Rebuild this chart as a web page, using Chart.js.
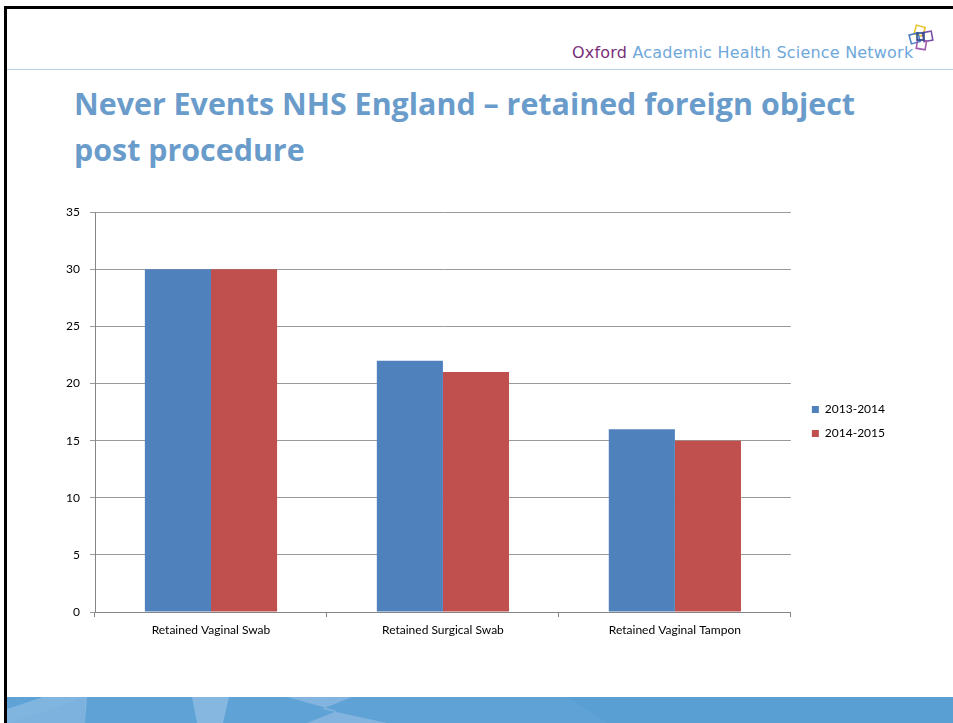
<!DOCTYPE html>
<html>
<head>
<meta charset="utf-8">
<script src="https://cdn.jsdelivr.net/npm/chart.js@4/dist/chart.umd.min.js"></script>
<style>
  html, body { margin: 0; padding: 0; background: #fff; }
  #slide { position: relative; width: 953px; height: 723px; overflow: hidden; background: #fff; }
  #topbar { position: absolute; left: 4px; top: 6px; width: 949px; height: 3px; background: #000; }
  #leftbar { position: absolute; left: 4px; top: 6px; width: 3px; height: 717px; background: #000; }
  #brand { position: absolute; left: 572px; top: 43px; font-family: "DejaVu Sans", sans-serif; font-size: 16px; letter-spacing: 0.2px; color: #6fa8da; white-space: nowrap; }
  #brand span { color: #7a2e7a; }
  #rule { position: absolute; left: 7px; top: 69px; width: 946px; height: 1px; background: #b8d3ea; }
  #title { position: absolute; left: 74px; top: 81px; font-family: "Open Sans", sans-serif; font-weight: bold; font-size: 30.4px; line-height: 46px; color: #6a9ccb; white-space: nowrap; }
  #chartbox { position: absolute; left: 0; top: 195px; width: 953px; height: 450px; }
  #band { position: absolute; left: 7px; top: 697px; }
  #logo { position: absolute; left: 906px; top: 24px; }
</style>
</head>
<body>
<div id="slide">
  <div id="topbar"></div>
  <div id="leftbar"></div>
  <div id="brand"><span>Oxford</span> Academic Health Science Network</div>
  <svg id="logo" width="30" height="30" viewBox="0 0 30 30">
    <rect x="9" y="2" width="9" height="9" fill="none" stroke="#e6c229" stroke-width="1.6" transform="rotate(15 13 7)"/>
    <rect x="17" y="8" width="9" height="9" fill="none" stroke="#7a4fa8" stroke-width="1.6" transform="rotate(-10 21 12)"/>
    <rect x="4" y="10" width="9" height="9" fill="none" stroke="#4c7fc2" stroke-width="1.6" transform="rotate(-15 8 14)"/>
    <rect x="11" y="16" width="9" height="9" fill="none" stroke="#a05cb0" stroke-width="1.6" transform="rotate(10 15 20)"/>
    <rect x="11" y="9" width="7" height="7" fill="none" stroke="#2d4f8a" stroke-width="1.6"/>
  </svg>
  <div id="rule"></div>
  <div id="title">Never Events NHS England – retained foreign object<br>post procedure</div>
  <div id="chartbox"><canvas id="canvas" width="953" height="450"></canvas></div>
  <svg id="band" width="946" height="26" viewBox="0 0 946 26">
    <rect x="0" y="0" width="946" height="26" fill="#5fa3d6"/>
    <polygon points="0,26 0,12 36,0 80,0 78,26" fill="#80b5e0"/>
    <polygon points="0,26 40,14 78,0 78,26" fill="#7db2de"/>
    <polygon points="185,0 222,0 216,26 190,26" fill="#85b7e1"/>
    <polygon points="280,0 345,0 315,12 380,26 300,26 330,14" fill="#82b4df"/>
    <polygon points="560,0 946,0 946,26 600,26" fill="#5a9fd4"/>
  </svg>
</div>
<script>
var categories = ['Retained Vaginal Swab', 'Retained Surgical Swab', 'Retained Vaginal Tampon'];
var series2013 = [30, 22, 16];
var series2014 = [30, 21, 15];
var seriesNames = ['2013-2014', '2014-2015'];

var tickFont = { family: 'Lato, sans-serif', size: 12 };

// nudge the legend up a little, like the original
var legendShift = {
    id: 'legendShift',
    afterLayout: function (chart) {
        chart.legend.top -= 5;
        chart.legend.bottom -= 5;
    }
};

var ctx = document.getElementById('canvas');
var myChart = new Chart(ctx, {
    type: 'bar',
    data: {
        labels: categories,
        datasets: [{
            label: seriesNames[0],
            data: series2013,
            backgroundColor: '#4f81bd',
            categoryPercentage: 0.57,
            barPercentage: 1.0
        }, {
            label: seriesNames[1],
            data: series2014,
            backgroundColor: '#c0504d',
            categoryPercentage: 0.57,
            barPercentage: 1.0
        }]
    },
    options: {
        responsive: false,
        animation: false,
        layout: { padding: { top: 13, right: 58, bottom: 0, left: 0 } },
        plugins: {
            tooltip: { enabled: false },
            legend: {
                position: 'right',
                labels: {
                    boxWidth: 7,
                    boxHeight: 7,
                    padding: 12,
                    color: '#000',
                    font: tickFont
                }
            }
        },
        scales: {
            x: {
                grid: {
                    offset: true,
                    drawOnChartArea: false,
                    drawTicks: true,
                    tickLength: 5,
                    color: '#868686'
                },
                border: { color: '#868686' },
                ticks: { color: '#000', font: tickFont, padding: 6 },
                afterFit: function (scale) { scale.height = 33; }
            },
            y: {
                min: 0,
                max: 35,
                ticks: { stepSize: 5, color: '#000', font: tickFont, padding: 10 },
                grid: { color: '#9a9a9a', tickLength: 5 },
                border: { color: '#868686' },
                afterFit: function (scale) { scale.width = 95; }
            },
            // empty spacer between plot and legend
            gap: {
                type: 'linear',
                position: 'right',
                grid: { display: false },
                border: { display: false },
                ticks: { display: false },
                afterFit: function (scale) { scale.width = 9; }
            }
        }
    },
    plugins: [legendShift]
});
</script>
</body>
</html>
